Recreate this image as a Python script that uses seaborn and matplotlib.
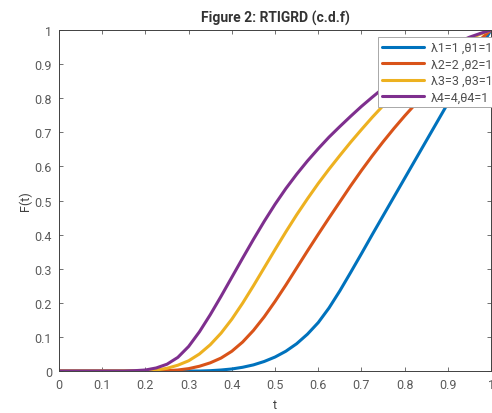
import numpy as np
import pandas as pd
import matplotlib
matplotlib.use("Agg")
import matplotlib.pyplot as plt
import seaborn as sns

t = [0.0, 0.025, 0.05, 0.075, 0.1, 0.125, 0.15, 0.175, 0.2, 0.225,
     0.25, 0.275, 0.3, 0.325, 0.35, 0.375, 0.4, 0.425, 0.45, 0.475,
     0.5, 0.525, 0.55, 0.575, 0.6, 0.625, 0.65, 0.675, 0.7, 0.725,
     0.75, 0.775, 0.8, 0.825, 0.85, 0.875, 0.9, 0.925, 0.95, 0.975, 1.0]

F1 = [0, 0, 0, 0, 0, 0, 0, 0, 0, 0,
      0, 0, 0, 0, 0.001, 0.003, 0.006, 0.011, 0.018, 0.028,
      0.041, 0.058, 0.08, 0.108, 0.142, 0.185, 0.235, 0.289, 0.344, 0.4,
      0.455, 0.51, 0.565, 0.62, 0.675, 0.73, 0.785, 0.839, 0.893, 0.947, 1.0]

F2 = [0, 0, 0, 0, 0, 0, 0, 0, 0, 0,
      0.001, 0.003, 0.007, 0.014, 0.024, 0.038, 0.058, 0.085, 0.119, 0.159,
      0.204, 0.252, 0.302, 0.352, 0.401, 0.449, 0.496, 0.543, 0.588, 0.631,
      0.672, 0.711, 0.748, 0.783, 0.817, 0.85, 0.882, 0.913, 0.943, 0.972, 1.0]

F3 = [0, 0, 0, 0, 0, 0, 0, 0, 0.001, 0.003,
      0.008, 0.017, 0.03, 0.05, 0.077, 0.111, 0.152, 0.199, 0.25, 0.303,
      0.356, 0.408, 0.458, 0.505, 0.55, 0.592, 0.632, 0.671, 0.708, 0.744,
      0.778, 0.81, 0.84, 0.868, 0.894, 0.918, 0.94, 0.959, 0.975, 0.988, 1.0]

F4 = [0, 0, 0, 0, 0, 0, 0, 0.001, 0.003, 0.009,
      0.02, 0.04, 0.072, 0.115, 0.165, 0.219, 0.275, 0.331, 0.386, 0.439,
      0.489, 0.535, 0.577, 0.616, 0.652, 0.686, 0.717, 0.747, 0.776, 0.803,
      0.829, 0.853, 0.875, 0.895, 0.914, 0.932, 0.949, 0.965, 0.979, 0.99, 1.0]

labels = ["λ1=1 ,θ1=1", "λ2=2 ,θ2=1", "λ3=3 ,θ3=1", "λ4=4,θ4=1"]
colors = ["#0072BD", "#D95319", "#EDB120", "#7E2F8E"]

xticks = [0, 0.1, 0.2, 0.3, 0.4, 0.5, 0.6, 0.7, 0.8, 0.9, 1]
xticklabels = ["0", "0.1", "0.2", "0.3", "0.4", "0.5", "0.6", "0.7", "0.8", "0.9", "1"]
yticks = xticks
yticklabels = xticklabels

frames = []
for lab, vals in zip(labels, [F1, F2, F3, F4]):
    frames.append(pd.DataFrame({"t": t, "F": vals, "series": lab}))
df = pd.concat(frames, ignore_index=True)

sns.set_style("ticks")
plt.rcParams["font.family"] = ["Roboto", "DejaVu Sans"]

fig = plt.figure(figsize=(4.92, 4.14), dpi=100)
ax = fig.add_axes([0.12, 0.1014, 0.878, 0.8236])

sns.lineplot(data=df, x="t", y="F", hue="series", hue_order=labels,
             palette=colors, linewidth=2.2, ax=ax, legend=True)

ax.set_xlim(0, 1)
ax.set_ylim(0, 1)
ax.set_xticks(xticks)
ax.set_xticklabels(xticklabels)
ax.set_yticks(yticks)
ax.set_yticklabels(yticklabels)
tc = "#5a5a5a"
ax.tick_params(direction="in", length=3, width=0.6, top=True, right=True,
               labelsize=9, colors=tc, pad=5)
for s in ax.spines.values():
    s.set_visible(True)
    s.set_linewidth(0.7)
    s.set_color("#404040")

ax.set_xlabel("t", fontsize=9, color="#404040", labelpad=5)
ax.set_ylabel("F(t)", fontsize=9, color="#404040", labelpad=2)
ax.set_title("Figure 2: RTIGRD (c.d.f)", fontsize=10, fontweight="bold",
             color="#333333", pad=6)

leg = ax.legend(loc="upper right", bbox_to_anchor=(1.012, 0.979), fontsize=9,
                frameon=True, fancybox=False, handlelength=3.4, borderpad=0.3,
                labelspacing=0.28, handletextpad=0.5, borderaxespad=0.0)
leg.get_frame().set_edgecolor("#a8a8a8")
leg.get_frame().set_linewidth(0.7)
leg.get_frame().set_alpha(1.0)
for txt in leg.get_texts():
    txt.set_color("#505050")

fig.savefig("out.png", dpi=100)
